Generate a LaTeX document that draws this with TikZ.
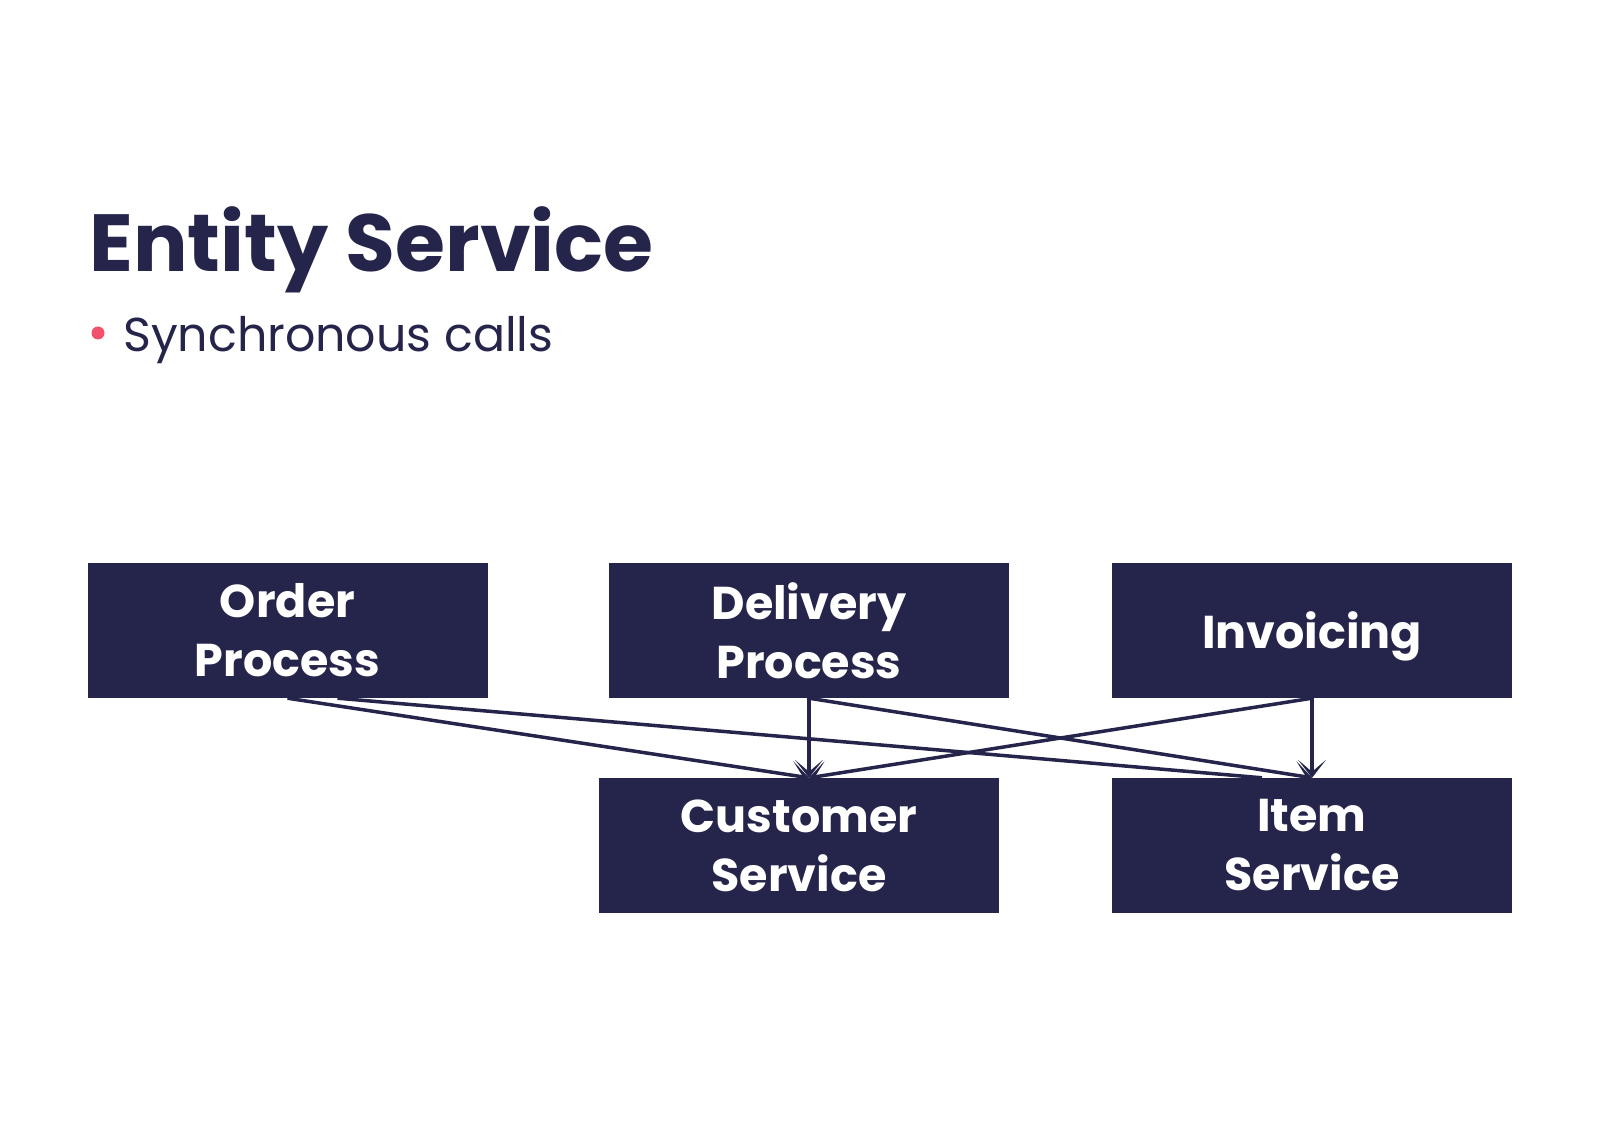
\documentclass[tikz,border=0pt]{standalone}
\usepackage{fontspec}
\setmainfont{Poppins}
\usetikzlibrary{arrows.meta}
\definecolor{navy}{HTML}{25244A}
\definecolor{bulletpink}{HTML}{F2506C}
\tikzset{
  box/.style={fill=navy, draw=none, minimum width=400pt, minimum height=135pt, inner sep=0pt,
    text=white, align=center, font=\bfseries\fontsize{46}{59}\selectfont},
  conn/.style={draw=navy, line width=3.5pt, -{Stealth[length=18pt,width=28pt,inset=12pt]}},
  plainconn/.style={draw=navy, line width=3.5pt},
}
\begin{document}
\begin{tikzpicture}[x=1pt,y=1pt]
\useasboundingbox (0,0) rectangle (1600,-1131);
\fill[white] (0,0) rectangle (1600,-1131);
\node[anchor=base west, inner sep=0pt, text=navy, font=\bfseries\fontsize{81}{81}\selectfont] (title) at (89,-272) {Entity Service};
\node[circle, fill=bulletpink, minimum size=13pt, inner sep=0pt] (bullet) at (98,-333) {};
\node[anchor=base west, inner sep=0pt, text=navy, font=\fontsize{47.5}{47.5}\selectfont] (sub) at (123,-352) {Synchronous calls};
\node[box] (order) at (287.5,-630.5) {Order\\Process};
\node[box] (delivery) at (809,-630.5) {Delivery\\Process};
\node[box] (invoicing) at (1312,-630.5) {\raisebox{-6pt}[\height][\depth]{Invoicing}};
\node[box] (customer) at (799,-845.5) {Customer\\Service};
\node[box] (item) at (1312,-845.5) {Item\\Service};
\coordinate (ctip) at ([xshift=10pt]customer.north);
\coordinate (ostart) at ([xshift=50pt]order.south);
\coordinate (iend) at ([xshift=-50pt]item.north);
\draw[conn] (order.south) -- (ctip);
\draw[plainconn] (ostart) -- (iend);
\draw[conn] (delivery.south) -- (ctip);
\draw[conn] (delivery.south) -- (item.north);
\draw[conn] (invoicing.south) -- (ctip);
\draw[conn] (invoicing.south) -- (item.north);
\end{tikzpicture}
\end{document}
